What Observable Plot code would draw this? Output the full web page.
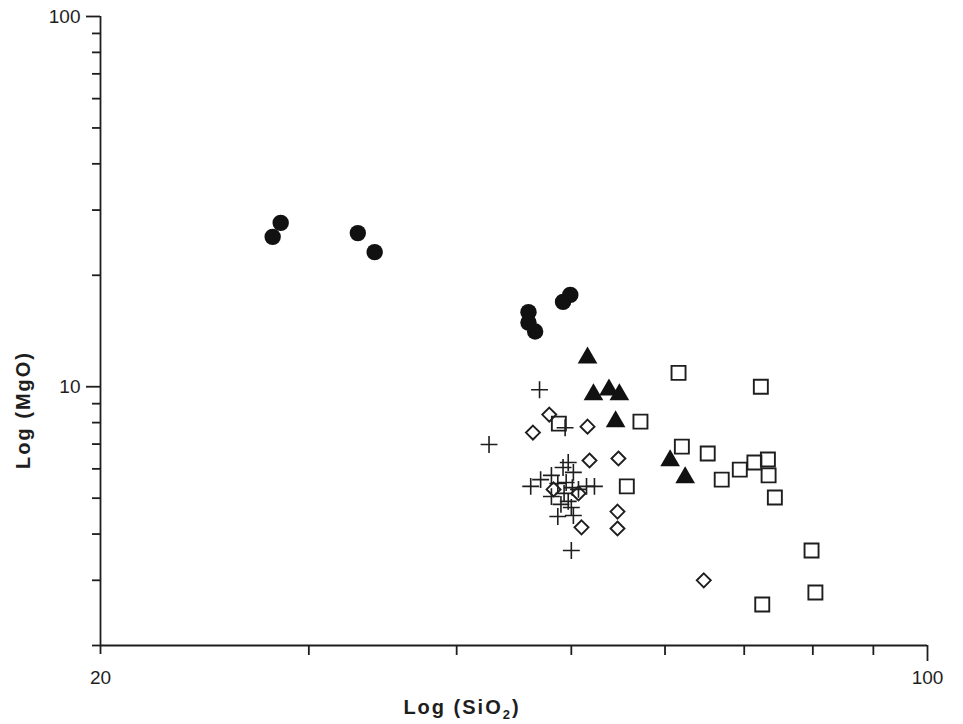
<!DOCTYPE html>
<html><head><meta charset="utf-8">
<script src="https://cdn.jsdelivr.net/npm/d3@7"></script>
<script src="https://cdn.jsdelivr.net/npm/@observablehq/plot@0.6"></script>
<style>body{margin:0;background:#fff;}</style>
</head><body><div id="chart"></div>
<script>
// Data (SiO2 %, MgO %)
const circleSiO2 = [27.96, 28.4, 33.0, 34.1, 46.0, 46.0, 46.6, 49.2, 49.9];
const circleMgO  = [25.4, 27.7, 26.0, 23.1, 15.9, 14.9, 14.1, 16.95, 17.7];
const triangleSiO2 = [51.6, 52.2, 53.8, 54.9, 54.5, 60.6, 62.4];
const triangleMgO  = [11.97, 9.52, 9.81, 9.52, 8.05, 6.32, 5.68];
const squareSiO2 = [57.2, 61.6, 72.3, 62.0, 65.2, 67.0, 69.4, 71.4, 73.3, 73.4, 74.3, 55.7, 79.8, 80.4, 72.5, 48.8];
const squareMgO  = [8.05, 10.9, 10.0, 6.89, 6.60, 5.61, 5.97, 6.24, 6.36, 5.76, 5.02, 5.38, 3.61, 2.78, 2.58, 7.95];
const diamondSiO2 = [47.9, 46.4, 51.6, 51.8, 54.8, 54.7, 54.7, 51.0, 64.7, 48.3, 50.7];
const diamondMgO  = [8.41, 7.52, 7.80, 6.32, 6.40, 4.60, 4.14, 4.17, 3.00, 5.28, 5.15];
const plusSiO2 = [47.0, 49.4, 42.6, 50.0, 49.7, 49.2, 50.2, 46.2, 47.1, 48.1, 48.7, 49.5, 50.1, 51.5, 52.3, 48.1, 49.3, 49.7, 50.0, 48.7, 50.2, 49.0, 50.7];
const plusMgO  = [9.81, 7.75, 6.98, 3.61, 6.24, 6.05, 5.87, 5.38, 5.61, 5.76, 5.48, 5.51, 5.34, 5.38, 5.38, 5.05, 5.15, 4.90, 4.72, 4.46, 4.49, 4.81, 5.28];

const xDomain = [20, 100];
const yDomain = [2, 100];
const xLabelTicks = [20, 100];
const xMinorTicks = [30, 40, 50, 60, 70, 80, 90];
const yLabelTicks = [10, 100];
const yMinorTicks = [2, 3, 4, 5, 6, 7, 8, 9, 20, 30, 40, 50, 60, 70, 80, 90];
const xTitle = "Log (SiO2)";
const yTitle = "Log (MgO)";

const pts = (xs, ys) => xs.map((x, i) => ({x, y: ys[i]}));
const ink = "#1e1e1e";
const noText = () => "";

const chart = Plot.plot({
  width: 963,
  height: 724,
  marginLeft: 100,
  marginRight: 36,
  marginTop: 16,
  marginBottom: 79,
  x: {type: "log", domain: xDomain, axis: null},
  y: {type: "log", domain: yDomain, axis: null},
  style: {fontFamily: "'Liberation Sans', Arial, sans-serif", fontSize: "19px", color: ink, background: "#fff"},
  marks: [
    Plot.ruleX([xDomain[0]], {stroke: ink, strokeWidth: 1.8}),
    Plot.ruleY([yDomain[0]], {stroke: ink, strokeWidth: 1.8}),
    Plot.axisY(yMinorTicks, {tickSize: 8, tickFormat: noText, strokeWidth: 1.8, stroke: ink, label: null}),
    Plot.axisY(yLabelTicks, {tickSize: 14, tickFormat: noText, strokeWidth: 1.8, stroke: ink, label: null}),
    Plot.axisY(yLabelTicks, {tickSize: 0, tickPadding: 20, tickFormat: d => String(d), label: null, fontSize: 19}),
    Plot.axisX(xMinorTicks, {tickSize: 10, tickFormat: noText, strokeWidth: 1.8, stroke: ink, label: null}),
    Plot.axisX([xLabelTicks[0]], {tickSize: 9, tickFormat: noText, strokeWidth: 1.8, stroke: ink, label: null}),
    Plot.axisX([xLabelTicks[1]], {tickSize: 16, tickFormat: noText, strokeWidth: 1.8, stroke: ink, label: null}),
    Plot.axisX(xLabelTicks, {tickSize: 0, tickPadding: 25, tickFormat: d => String(d), label: null, fontSize: 19}),
    Plot.text([xTitle], {frameAnchor: "bottom", dx: -52, dy: 68, fontWeight: "bold", fontSize: 20, fill: ink}),
    Plot.text([yTitle], {frameAnchor: "left", fontWeight: "bold", fontSize: 20, fill: ink}),
    Plot.dot(pts(circleSiO2, circleMgO), {x: "x", y: "y", symbol: "circle", r: 8.2, fill: "#111", stroke: "none"}),
    Plot.dot(pts(triangleSiO2, triangleMgO), {x: "x", y: "y", symbol: "triangle", r: 7.3, fill: "#111", stroke: "none"}),
    Plot.dot(pts(squareSiO2, squareMgO), {x: "x", y: "y", symbol: "square", r: 7.9, fill: "none", stroke: ink, strokeWidth: 1.9}),
    Plot.dot(pts(diamondSiO2, diamondMgO), {x: "x", y: "y", symbol: "diamond2", r: 6.3, fill: "none", stroke: ink, strokeWidth: 1.9}),
    Plot.dot(pts(plusSiO2, plusMgO), {x: "x", y: "y", symbol: "plus", r: 5.5, fill: "none", stroke: ink, strokeWidth: 1.6})
  ]
});
chart.querySelectorAll("text").forEach(t => {
  if (t.textContent === xTitle) {
    t.style.letterSpacing = "2px";
    t.innerHTML = 'Log (SiO<tspan dy="5" font-size="13">2</tspan><tspan dy="-5">)</tspan>';
  } else if (t.textContent === yTitle) {
    t.style.letterSpacing = "2px";
    const g = t.parentNode;
    if (g && g.tagName.toLowerCase() === "g") g.removeAttribute("transform");
    ["x", "y", "dx", "dy"].forEach(a => t.removeAttribute(a));
    t.setAttribute("text-anchor", "middle");
    t.setAttribute("transform", "translate(30,410) rotate(-90)");
  }
});
document.getElementById("chart").appendChild(chart);
</script>
</body></html>
